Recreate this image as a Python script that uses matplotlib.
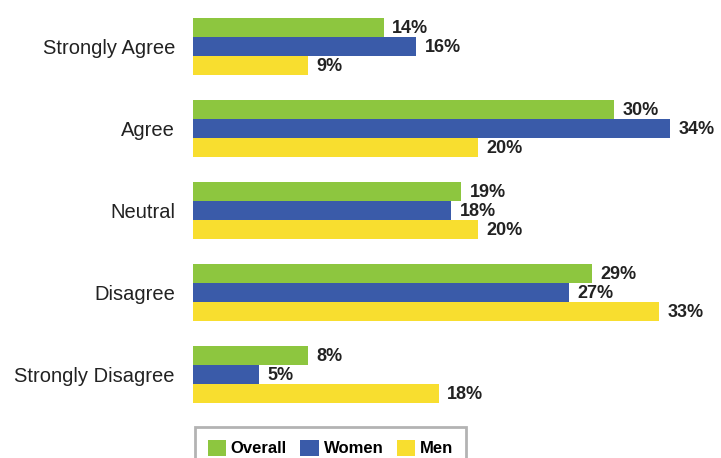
import numpy as np
import matplotlib
matplotlib.use("Agg")
import matplotlib.pyplot as plt

categories = ["Strongly Agree", "Agree", "Neutral", "Disagree", "Strongly Disagree"]
series = ["Overall", "Women", "Men"]
overall = [13.6, 30.0, 19.1, 28.4, 8.2]
women = [15.9, 34.0, 18.4, 26.8, 4.7]
men = [8.2, 20.3, 20.3, 33.2, 17.5]
overall_lbl = ["14%", "30%", "19%", "29%", "8%"]
women_lbl = ["16%", "34%", "18%", "27%", "5%"]
men_lbl = ["9%", "20%", "20%", "33%", "18%"]
colors = ["#8DC63F", "#3A5BA9", "#F8DE2F"]

plt.rcParams['font.family'] = ['Liberation Sans', 'DejaVu Sans']

fig = plt.figure(figsize=(7.21, 4.58), dpi=100)
# axes placed in pixel terms: left edge at 193px, top at 0, bottom at 410px
ax = fig.add_axes([193/721, 48/458, 528/721, 410/458])

y = np.arange(len(categories))
h = 19/82
data = [overall, women, men]
lbls = [overall_lbl, women_lbl, men_lbl]
for k in range(3):
    ax.barh(y + (k-1)*h, data[k], height=h, color=colors[k], label=series[k])
    for i in range(len(categories)):
        ax.annotate(lbls[k][i], (data[k][i], y[i] + (k-1)*h + 0.02), xytext=(6, 0),
                    textcoords="offset points", va="center", ha="left",
                    fontsize=13, fontweight="bold", color="#222222")

ax.set_xlim(0, 37.6)
ax.set_ylim(4.439, -0.561)
ax.set_yticks(y)
ax.set_yticklabels(categories, fontsize=14.5, color="#222222")
ax.tick_params(axis="y", length=0, pad=13)
ax.set_xticks([])
for s in ax.spines.values():
    s.set_visible(False)

leg = fig.legend(loc="upper left", bbox_to_anchor=(195/721, 1-427/458), ncol=3,
                 frameon=True, fancybox=False, edgecolor="#A0A0A0",
                 handlelength=1.1, handleheight=1.1, handletextpad=0.3,
                 columnspacing=0.8, borderpad=0.75, borderaxespad=0,
                 prop={"size": 12, "weight": "bold"})
leg.get_frame().set_linewidth(2)

plt.savefig("out.png", dpi=100)
